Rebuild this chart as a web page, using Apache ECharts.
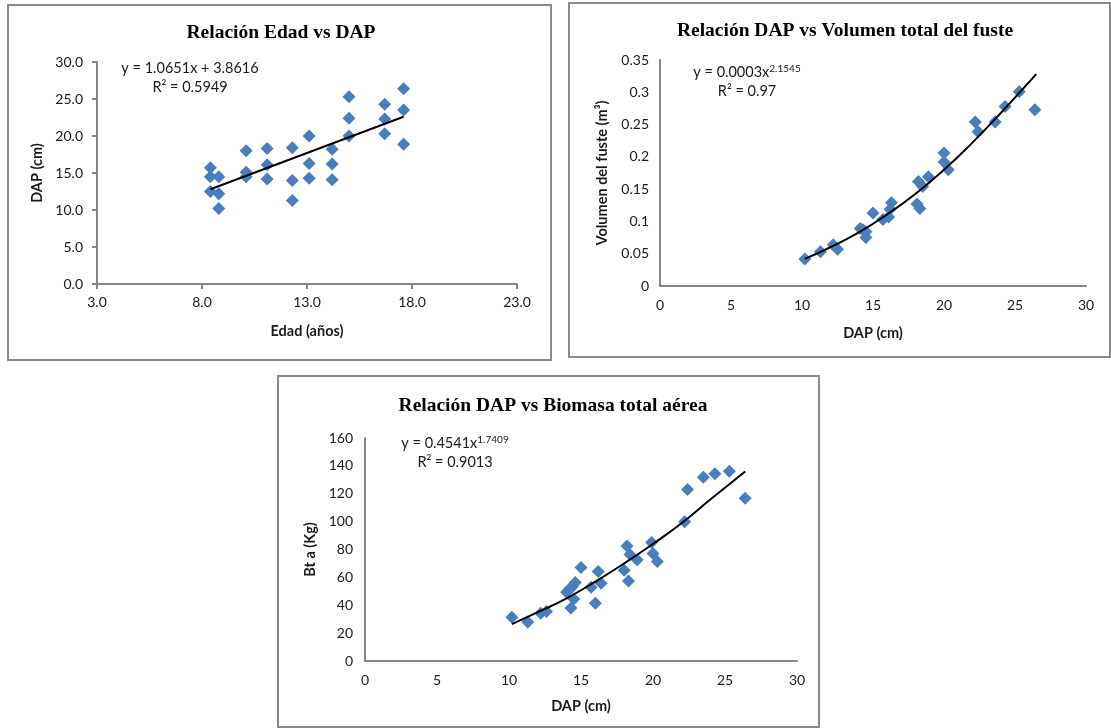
<!DOCTYPE html>
<html><head><meta charset="utf-8">
<script src="https://cdn.jsdelivr.net/npm/echarts@6/dist/echarts.min.js"></script>
<style>html,body{margin:0;padding:0;background:#fff}#c{width:1111px;height:728px}</style>
</head><body><div id="c"></div>
<script>
// ---------- Data ----------
// Chart 1: Edad vs DAP
const edad = [8.4,8.4,8.4,8.8,8.8,8.8,10.1,10.1,10.1,11.1,11.1,11.1,12.3,12.3,12.3,13.1,13.1,13.1,14.2,14.2,14.2,15.0,15.0,15.0,16.7,16.7,16.7,17.6,17.6,17.6];
const dapEdad = [15.7,14.5,12.5,14.5,12.2,10.2,18.0,15.1,14.5,18.3,16.1,14.2,18.4,14.0,11.3,20.0,16.3,14.3,18.2,16.2,14.1,25.3,22.4,20.0,24.3,22.3,20.3,26.4,23.5,18.9];
const trendEdadX = [8.4, 17.6];
const trendEdadY = [12.8, 22.6];
const ticksEdadX = [3, 8, 13, 18, 23];

// Chart 2: DAP vs Volumen
const dapVol = [10.2,11.3,12.2,12.5,14.1,14.3,14.5,14.5,15.0,15.7,16.1,16.2,16.3,18.1,18.3,18.2,18.5,18.9,20.0,20.0,20.3,22.2,22.4,23.6,24.3,25.3,26.4];
const vol = [0.042,0.053,0.064,0.057,0.089,0.087,0.075,0.084,0.113,0.103,0.107,0.119,0.129,0.127,0.120,0.162,0.154,0.169,0.206,0.192,0.180,0.254,0.239,0.254,0.278,0.301,0.273];
const trendVolX = [10.2,12,14,16,18,20,22,24,26.5];
const trendVolY = [0.042,0.060,0.083,0.111,0.143,0.180,0.222,0.268,0.328];

// Chart 3: DAP vs Biomasa
const dapBio = [10.2,11.3,12.2,12.6,14.0,14.2,14.3,14.5,14.6,14.4,15.0,15.7,16.0,16.2,16.4,18.0,18.2,18.3,18.4,18.9,19.9,20.0,20.3,22.2,22.4,23.5,24.3,25.3,26.4];
const bio = [31.4,27.9,34.3,35.5,49.3,51.7,38.1,44.5,56.4,53.5,67.1,52.9,41.4,64.3,55.7,65.2,82.6,57.4,76.4,72.6,85.0,77.1,71.4,100.0,123.1,131.9,134.3,136.2,116.7];
const trendBioX = [10.2,12,14,16,18,20,22,24,26.4];
const trendBioY = [26.5,35,45,57,70,84,99,116,136];

const titles = ['Relación Edad vs DAP', 'Relación DAP vs Volumen total del fuste', 'Relación DAP vs Biomasa total aérea'];

// ---------- Styles ----------
const FONT = 'Lato, "Open Sans", sans-serif';
const AX = '#868686';
const MARK = '#4A7EBB';
const LBL = 14;
const pairs = (a, b) => a.map((v, i) => [v, b[i]]);

function axis(grid, min, max, interval, o) {
  return Object.assign({
    type: 'value', gridIndex: grid, min: min, max: max, interval: interval,
    axisLine: { show: true, onZero: false, lineStyle: { color: AX, width: 2 } },
    axisTick: { show: false },
    splitLine: { show: false },
    axisLabel: { color: '#1a1a1a', fontSize: LBL, fontFamily: FONT, margin: 12 },
    nameLocation: 'middle',
    nameTextStyle: { color: '#1a1a1a', fontSize: 14.5, fontWeight: 'bold', fontFamily: FONT }
  }, o);
}

const chart = echarts.init(document.getElementById('c'), null, { renderer: 'canvas' });

const boxes = [
  [8, 5, 543, 355],
  [569, 3, 541, 354],
  [278, 376, 541, 351]
];

const titleStyle = { fontFamily: '"Liberation Serif", "Times New Roman", serif', fontWeight: 'bold', fontSize: 19.5, color: '#000' };

function eqText(x, y, line1, sup, line2) {
  return [
    { type: 'text', x: x, y: y, style: {
      text: sup ? '{a|' + line1 + '}{s|' + sup + '}' : '{a|' + line1 + '}',
      align: 'center', verticalAlign: 'middle',
      rich: { a: { fontSize: 14.5, fontFamily: FONT, fill: '#1a1a1a', lineHeight: 17 },
              s: { fontSize: 10, fontFamily: FONT, fill: '#1a1a1a', verticalAlign: 'top', lineHeight: 17 } }
    }},
    { type: 'text', x: x, y: y + 19, style: {
      text: line2, align: 'center', verticalAlign: 'middle', fontSize: 14.5, fontFamily: FONT, fill: '#1a1a1a'
    }}
  ];
}

const scatterStyle = { color: MARK, opacity: 1 };

const option = {
  backgroundColor: '#fff',
  animation: false,
  title: [
    { text: titles[0], left: 276, top: 18, textAlign: 'center', textStyle: titleStyle },
    { text: titles[1], left: 840, top: 16, textAlign: 'center', textStyle: titleStyle },
    { text: titles[2], left: 548, top: 391, textAlign: 'center', textStyle: titleStyle }
  ],
  graphic: [].concat(
    boxes.map(b => ({ type: 'rect', shape: { x: b[0], y: b[1], width: b[2], height: b[3] },
      style: { fill: 'none', stroke: '#8a8a8a', lineWidth: 2 }, silent: true, z: -1 })),
    eqText(190, 68, 'y = 1.0651x + 3.8616', null, 'R² = 0.5949'),
    eqText(747, 72, 'y = 0.0003x', '2.1545', 'R² = 0.97'),
    eqText(455, 443, 'y = 0.4541x', '1.7409', 'R² = 0.9013')
  ),
  grid: [
    { left: 97, top: 62, width: 420, height: 222 },
    { left: 660, top: 60, width: 426, height: 226 },
    { left: 365, top: 438, width: 432, height: 223 }
  ],
  xAxis: [
    axis(0, 3, 23, 5, {
      name: 'Edad (años)', nameGap: 40,
      axisTick: { show: true, length: 5, lineStyle: { color: AX, width: 2 }, customValues: ticksEdadX },
      axisLabel: { color: '#1a1a1a', fontSize: LBL, fontFamily: FONT, margin: 11, customValues: ticksEdadX, formatter: v => v.toFixed(1) }
    }),
    axis(1, 0, 30, 5, { name: 'DAP (cm)', nameGap: 40 }),
    axis(2, 0, 30, 5, { name: 'DAP (cm)', nameGap: 38 })
  ],
  yAxis: [
    axis(0, 0, 30, 5, {
      name: 'DAP (cm)', nameGap: 52,
      axisTick: { show: true, length: 5, lineStyle: { color: AX, width: 2 } },
      axisLabel: { color: '#1a1a1a', fontSize: LBL, fontFamily: FONT, margin: 14, formatter: v => v.toFixed(1) }
    }),
    axis(1, 0, 0.35, 0.05, { name: 'Volumen del fuste (m³)', nameGap: 50, axisLabel: { color: '#1a1a1a', fontSize: LBL, fontFamily: FONT, margin: 11 } }),
    axis(2, 0, 160, 20, { name: 'Bt a (Kg)', nameGap: 47, axisLabel: { color: '#1a1a1a', fontSize: LBL, fontFamily: FONT, margin: 12 } })
  ],
  series: [
    { type: 'scatter', xAxisIndex: 0, yAxisIndex: 0, data: pairs(edad, dapEdad), symbol: 'diamond', symbolSize: 13, itemStyle: scatterStyle, z: 2 },
    { type: 'line', xAxisIndex: 0, yAxisIndex: 0, data: pairs(trendEdadX, trendEdadY), showSymbol: false, lineStyle: { color: '#000', width: 2 }, z: 3 },
    { type: 'scatter', xAxisIndex: 1, yAxisIndex: 1, data: pairs(dapVol, vol), symbol: 'diamond', symbolSize: 13, itemStyle: scatterStyle, z: 2 },
    { type: 'line', xAxisIndex: 1, yAxisIndex: 1, data: pairs(trendVolX, trendVolY), smooth: true, showSymbol: false, lineStyle: { color: '#000', width: 2 }, z: 3 },
    { type: 'scatter', xAxisIndex: 2, yAxisIndex: 2, data: pairs(dapBio, bio), symbol: 'diamond', symbolSize: 13, itemStyle: scatterStyle, z: 2 },
    { type: 'line', xAxisIndex: 2, yAxisIndex: 2, data: pairs(trendBioX, trendBioY), smooth: true, showSymbol: false, lineStyle: { color: '#000', width: 2 }, z: 3 }
  ]
};
chart.setOption(option);
</script></body></html>
